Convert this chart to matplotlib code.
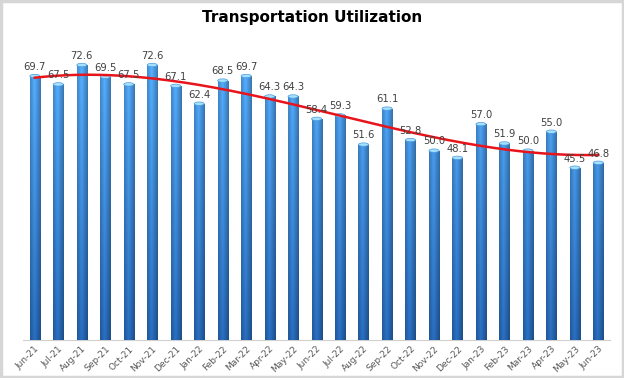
import numpy as np
import matplotlib
matplotlib.use("Agg")
import matplotlib.pyplot as plt
from matplotlib.patches import Ellipse, Rectangle

months = ["Jun-21", "Jul-21", "Aug-21", "Sep-21", "Oct-21", "Nov-21", "Dec-21",
          "Jan-22", "Feb-22", "Mar-22", "Apr-22", "May-22", "Jun-22", "Jul-22",
          "Aug-22", "Sep-22", "Oct-22", "Nov-22", "Dec-22", "Jan-23", "Feb-23",
          "Mar-23", "Apr-23", "May-23", "Jun-23"]
values = [69.7, 67.5, 72.6, 69.5, 67.5, 72.6, 67.1, 62.4, 68.5, 69.7, 64.3, 64.3,
          58.4, 59.3, 51.6, 61.1, 52.8, 50.0, 48.1, 57.0, 51.9, 50.0, 55.0, 45.5, 46.8]

fig = plt.figure(figsize=(6.24, 3.78), dpi=100)
ax = fig.add_axes([0.037, 0.1005, 0.9407, 0.8016])

x = np.arange(len(values))
bw = 0.43
ymax = 80
bars = ax.bar(x, values, width=bw, color="#3a8ad8", zorder=2)

# cylinder shading: light centre / dark edges, darker towards the bottom
h = np.linspace(0, 1, 40)
hf = 1 - np.abs(h - 0.42) * 1.1
v = np.linspace(0, 1, 80)[:, None]
top = np.array([0.33, 0.66, 0.95])
bot = np.array([0.15, 0.40, 0.70])
base = bot + (top - bot) * v[..., None]
img = np.clip(base * (0.55 + 0.55 * hf)[None, :, None], 0, 1)
for b in bars:
    x0 = b.get_x()
    im = ax.imshow(img, aspect="auto", origin="lower", zorder=3,
                   extent=[x0, x0 + b.get_width(), 0, ymax])
    im.set_clip_path(b)

for xi, val in zip(x, values):
    ax.add_patch(Ellipse((xi, val), bw, 0.9, facecolor="#a6e0fb",
                         edgecolor="#4a9be0", lw=0.5, zorder=4))
    ax.annotate(f"{val:.1f}", (xi, val), xytext=(0, 3), textcoords="offset points",
                ha="center", va="bottom", fontsize=7.2, color="#404040", zorder=6)

# polynomial trend line like the spreadsheet one
coef = np.polyfit(x, values, 3)
xs = np.linspace(0, len(values) - 1, 200)
ax.plot(xs, np.polyval(coef, xs), color="#e8141c", lw=1.8, zorder=5)

ax.set_xlim(-0.5, len(values) - 0.5)
ax.set_ylim(0, ymax)
ax.set_xticks(x)
ax.set_xticklabels(months, rotation=45, ha="right", rotation_mode="anchor",
                   fontsize=6.5, color="#595959")
ax.tick_params(axis="x", length=0, pad=3)
ax.set_yticks([])
for s in ["left", "right", "top"]:
    ax.spines[s].set_visible(False)
ax.spines["bottom"].set_color("#d0d0d0")
ax.spines["bottom"].set_linewidth(0.8)

fig.text(0.5, 0.955, "Transportation Utilization", ha="center", va="center",
         fontsize=11, fontweight="bold", color="#000000")

fig.patches.append(Rectangle((0.002, 0.003), 0.996, 0.994, transform=fig.transFigure,
                             fill=False, edgecolor="#d6d6d6", lw=2.5))

fig.savefig("out.png", dpi=100)
